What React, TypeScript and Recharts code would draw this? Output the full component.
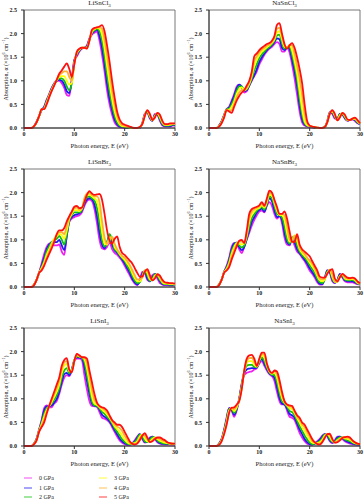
import React from "react";
import { LineChart, Line, XAxis, YAxis, ReferenceArea } from "recharts";

// photon energy grid (eV)
const energies = [
  0, 0.5, 1, 1.5, 2, 2.5, 3, 3.5, 4, 4.5,
  5, 5.5, 6, 6.5, 7, 7.5, 8, 8.5, 9, 9.5,
  10, 10.5, 11, 11.5, 12, 12.5, 13, 13.5, 14, 14.5,
  15, 15.5, 16, 16.5, 17, 17.5, 18, 18.5, 19, 19.5,
  20, 20.5, 21, 21.5, 22, 22.5, 23, 23.5, 24, 24.5,
  25, 25.5, 26, 26.5, 27, 27.5, 28, 28.5, 29, 29.5,
  30,
];

const pressures = ["0 GPa", "1 GPa", "2 GPa", "3 GPa", "4 GPa", "5 GPa"];
const colors = ["#f020f0", "#1c1cf0", "#10c010", "#ffff00", "#ffb030", "#ff1010"];

const xTicks = [0, 10, 20, 30];
const yTicks = [0, 0.5, 1, 1.5, 2, 2.5];

// LiSnCl3
const liSnCl3_0 = [
  0, 0, 0, 0, .04, .13, .25, .38, .45, .60,
  .72, .85, .95, 1.0, 1.0, .95, .85, .70, .68, 1.05,
  1.45, 1.52, 1.62, 1.68, 1.70, 1.75, 1.90, 1.98, 2.02, 2.04,
  1.85, 1.55, 1.20, .80, .50, .28, .12, .05, .02, .01,
  0, 0, 0, 0, 0, 0, 0, .10, .30, .32,
  .20, .15, .30, .28, .15, .05, .03, .03, .03, .05,
  .05,
];
const liSnCl3_1 = [
  0, 0, 0, 0, .04, .13, .25, .38, .44, .58,
  .70, .84, .94, 1.0, 1.02, 1.0, .92, .78, .74, 1.0,
  1.42, 1.55, 1.64, 1.69, 1.70, 1.73, 1.88, 2.0, 2.05, 2.08,
  1.95, 1.70, 1.35, .95, .62, .38, .18, .08, .03, .02,
  .01, 0, 0, 0, 0, 0, 0, .10, .29, .34,
  .22, .15, .28, .29, .18, .07, .04, .04, .04, .06,
  .06,
];
const liSnCl3_2 = [
  0, 0, 0, 0, .04, .12, .25, .39, .42, .56,
  .69, .82, .93, 1.0, 1.05, 1.05, 1.0, .88, .80, .95,
  1.40, 1.57, 1.65, 1.69, 1.70, 1.71, 1.87, 2.02, 2.07, 2.10,
  2.05, 1.85, 1.52, 1.12, .78, .48, .26, .12, .05, .03,
  .02, .01, 0, 0, 0, 0, .01, .09, .28, .35,
  .24, .16, .26, .30, .20, .09, .05, .05, .06, .07,
  .07,
];
const liSnCl3_3 = [
  0, 0, 0, 0, .04, .12, .25, .39, .41, .54,
  .68, .81, .92, 1.01, 1.08, 1.10, 1.10, 1.0, .92, .95,
  1.38, 1.59, 1.66, 1.70, 1.70, 1.70, 1.86, 2.04, 2.09, 2.12,
  2.10, 1.98, 1.70, 1.32, .95, .62, .36, .18, .08, .04,
  .03, .02, .01, 0, 0, 0, .01, .09, .27, .36,
  .26, .16, .25, .31, .23, .11, .06, .06, .07, .08,
  .08,
];
const liSnCl3_4 = [
  0, 0, 0, 0, .04, .12, .25, .40, .40, .52,
  .66, .80, .91, 1.02, 1.12, 1.16, 1.20, 1.20, 1.08, 1.0,
  1.36, 1.60, 1.67, 1.70, 1.70, 1.69, 1.85, 2.06, 2.10, 2.13,
  2.13, 2.10, 1.88, 1.55, 1.18, .80, .50, .26, .12, .06,
  .05, .03, .02, .01, 0, 0, .02, .08, .26, .37,
  .28, .17, .23, .32, .26, .13, .07, .07, .09, .09,
  .09,
];
const liSnCl3_5 = [
  0, 0, 0, 0, .04, .12, .25, .40, .40, .50,
  .65, .78, .90, 1.02, 1.15, 1.22, 1.30, 1.37, 1.25, 1.08,
  1.35, 1.62, 1.68, 1.70, 1.70, 1.68, 1.85, 2.08, 2.12, 2.13,
  2.15, 2.18, 2.05, 1.75, 1.40, 1.00, .65, .35, .18, .10,
  .07, .05, .03, .01, 0, 0, .02, .08, .25, .38,
  .30, .17, .22, .32, .28, .15, .08, .08, .10, .10,
  .10,
];

// NaSnCl3
const naSnCl3_0 = [
  0, 0, 0, 0, .05, .14, .28, .40, .45, .58,
  .72, .88, .92, .85, .75, .78, .90, 1.0, 1.1, 1.2,
  1.35, 1.45, 1.55, 1.62, 1.68, 1.72, 1.78, 1.82, 1.78, 1.62,
  1.62, 1.70, 1.60, 1.35, 1.05, .70, .35, .12, .05, .03,
  .02, .01, 0, 0, 0, 0, .02, .15, .33, .30,
  .20, .20, .30, .28, .20, .15, .17, .18, .15, .10,
  .08,
];
const naSnCl3_1 = [
  0, 0, 0, 0, .05, .14, .27, .40, .43, .55,
  .68, .84, .92, .88, .78, .80, .90, 1.02, 1.12, 1.25,
  1.40, 1.50, 1.58, 1.65, 1.70, 1.75, 1.82, 1.90, 1.88, 1.70,
  1.65, 1.72, 1.68, 1.45, 1.20, .88, .48, .18, .07, .04,
  .03, .02, .01, 0, 0, 0, .02, .14, .33, .32,
  .22, .19, .30, .29, .21, .16, .17, .19, .17, .11,
  .08,
];
const naSnCl3_2 = [
  0, 0, 0, 0, .04, .13, .26, .39, .41, .50,
  .62, .78, .88, .88, .80, .82, .92, 1.05, 1.22, 1.35,
  1.48, 1.56, 1.62, 1.68, 1.72, 1.77, 1.85, 1.96, 1.98, 1.80,
  1.68, 1.72, 1.72, 1.55, 1.32, 1.02, .62, .28, .10, .05,
  .04, .02, .01, 0, 0, 0, .02, .13, .32, .34,
  .24, .18, .29, .30, .23, .16, .17, .19, .18, .12,
  .09,
];
const naSnCl3_3 = [
  0, 0, 0, 0, .04, .12, .25, .39, .39, .45,
  .56, .72, .82, .86, .80, .84, .94, 1.10, 1.32, 1.45,
  1.55, 1.62, 1.66, 1.71, 1.75, 1.80, 1.88, 2.02, 2.05, 1.88,
  1.72, 1.72, 1.75, 1.65, 1.42, 1.15, .78, .40, .14, .06,
  .04, .03, .02, .01, 0, 0, .02, .13, .31, .35,
  .26, .17, .27, .31, .25, .17, .17, .20, .19, .14,
  .09,
];
const naSnCl3_4 = [
  0, 0, 0, 0, .03, .11, .24, .38, .37, .38,
  .50, .65, .75, .80, .80, .86, .97, 1.15, 1.42, 1.52,
  1.60, 1.66, 1.70, 1.74, 1.77, 1.82, 1.92, 2.10, 2.12, 1.95,
  1.75, 1.70, 1.76, 1.75, 1.58, 1.32, 1.05, .70, .30, .10,
  .05, .03, .02, .01, 0, 0, .02, .12, .30, .37,
  .28, .16, .24, .32, .27, .18, .17, .20, .21, .15,
  .10,
];
const naSnCl3_5 = [
  0, 0, 0, 0, .03, .10, .22, .38, .35, .32,
  .45, .58, .68, .75, .80, .90, 1.0, 1.2, 1.52, 1.58,
  1.65, 1.70, 1.74, 1.78, 1.80, 1.85, 1.95, 2.18, 2.22, 2.0,
  1.78, 1.68, 1.75, 1.80, 1.70, 1.50, 1.25, .95, .50, .15,
  .05, .03, .02, .01, 0, 0, .02, .12, .30, .38,
  .30, .16, .22, .32, .28, .18, .17, .20, .22, .17,
  .10,
];

// LiSnBr3
const liSnBr3_0 = [
  0, 0, 0, 0, .05, .15, .30, .50, .70, .85,
  .92, .92, .88, .88, .90, .75, .68, 1.10, 1.38, 1.45,
  1.48, 1.50, 1.52, 1.58, 1.72, 1.82, 1.85, 1.82, 1.65, 1.35,
  1.00, .82, .80, .85, .95, .80, .72, .68, .62, .55,
  .45, .35, .25, .15, .07, .04, .15, .32, .30, .15,
  .12, .25, .28, .18, .08, .05, .04, .04, .03, .03,
  .03,
];
const liSnBr3_1 = [
  0, 0, 0, 0, .05, .15, .30, .45, .62, .80,
  .90, .95, .95, .95, 1.0, .88, .78, 1.08, 1.40, 1.48,
  1.52, 1.54, 1.56, 1.62, 1.76, 1.85, 1.88, 1.86, 1.75, 1.50,
  1.15, .90, .82, .95, 1.10, .90, .78, .72, .66, .58,
  .50, .40, .30, .18, .10, .05, .12, .28, .33, .18,
  .12, .20, .28, .22, .12, .06, .05, .05, .04, .04,
  .04,
];
const liSnBr3_2 = [
  0, 0, 0, 0, .05, .15, .30, .42, .56, .75,
  .86, .95, 1.0, 1.02, 1.08, 1.0, .90, 1.12, 1.42, 1.52,
  1.58, 1.58, 1.58, 1.64, 1.80, 1.90, 1.92, 1.88, 1.83, 1.68,
  1.35, 1.0, .86, .92, 1.12, 1.0, .80, .75, .68, .61,
  .55, .45, .36, .24, .14, .08, .10, .24, .35, .24,
  .13, .17, .27, .24, .15, .08, .06, .06, .05, .05,
  .05,
];
const liSnBr3_3 = [
  0, 0, 0, 0, .05, .15, .30, .40, .52, .68,
  .80, .92, 1.02, 1.08, 1.12, 1.10, 1.02, 1.20, 1.45, 1.55,
  1.63, 1.63, 1.61, 1.66, 1.85, 1.94, 1.96, 1.92, 1.88, 1.82,
  1.58, 1.18, .92, .90, 1.05, 1.05, .85, .78, .70, .63,
  .58, .50, .42, .30, .19, .12, .12, .20, .35, .30,
  .16, .15, .24, .26, .18, .10, .07, .07, .06, .06,
  .05,
];
const liSnBr3_4 = [
  0, 0, 0, 0, .04, .15, .30, .38, .48, .62,
  .75, .88, 1.0, 1.10, 1.16, 1.16, 1.12, 1.30, 1.48, 1.58,
  1.67, 1.68, 1.64, 1.67, 1.88, 1.98, 2.0, 1.95, 1.92, 1.92,
  1.80, 1.40, 1.05, .92, .98, 1.06, .92, .80, .72, .66,
  .62, .55, .47, .36, .25, .16, .16, .20, .33, .35,
  .20, .14, .21, .27, .21, .12, .09, .08, .07, .07,
  .06,
];
const liSnBr3_5 = [
  0, 0, 0, 0, .04, .15, .30, .35, .45, .58,
  .70, .82, .95, 1.12, 1.20, 1.20, 1.25, 1.39, 1.50, 1.60,
  1.70, 1.72, 1.67, 1.68, 1.80, 1.95, 2.03, 1.98, 1.95, 1.96,
  1.97, 1.85, 1.55, 1.20, .98, .92, 1.02, 1.07, .85, .72,
  .68, .62, .56, .50, .40, .30, .22, .22, .33, .38,
  .25, .14, .18, .27, .24, .15, .10, .09, .08, .08,
  .07,
];

// NaSnBr3
const naSnBr3_0 = [
  0, 0, 0, 0, .05, .15, .32, .45, .62, .85,
  .93, .92, .80, .72, .85, 1.0, 1.15, 1.30, 1.42, 1.52,
  1.60, 1.62, 1.58, 1.72, 1.80, 1.72, 1.55, 1.45, 1.50, 1.35,
  1.05, .90, .88, 1.0, .88, .75, .70, .62, .55, .45,
  .35, .28, .20, .10, .05, .05, .20, .35, .30, .12,
  .08, .15, .28, .20, .12, .10, .10, .10, .08, .06,
  .05,
];
const naSnBr3_1 = [
  0, 0, 0, 0, .05, .15, .32, .42, .58, .80,
  .92, .94, .85, .78, .85, 1.02, 1.20, 1.38, 1.48, 1.58,
  1.63, 1.66, 1.60, 1.75, 1.88, 1.82, 1.62, 1.48, 1.50, 1.42,
  1.15, .95, .90, 1.05, .95, .80, .72, .65, .58, .50,
  .40, .32, .24, .14, .07, .06, .18, .35, .32, .15,
  .09, .14, .27, .22, .14, .12, .12, .12, .10, .07,
  .06,
];
const naSnBr3_2 = [
  0, 0, 0, 0, .05, .15, .31, .40, .54, .75,
  .88, .94, .88, .84, .88, 1.05, 1.28, 1.46, 1.54, 1.62,
  1.66, 1.70, 1.64, 1.77, 1.92, 1.88, 1.72, 1.55, 1.52, 1.48,
  1.28, 1.02, .92, 1.05, 1.05, .88, .75, .68, .62, .55,
  .46, .38, .30, .18, .10, .08, .16, .33, .35, .18,
  .10, .13, .25, .24, .16, .14, .14, .15, .12, .08,
  .06,
];
const naSnBr3_3 = [
  0, 0, 0, 0, .05, .15, .31, .38, .50, .70,
  .84, .93, .92, .90, .92, 1.10, 1.38, 1.54, 1.60, 1.65,
  1.68, 1.73, 1.68, 1.80, 1.96, 1.94, 1.78, 1.62, 1.53, 1.52,
  1.42, 1.15, .96, .98, 1.10, .98, .80, .72, .66, .60,
  .52, .44, .36, .24, .14, .12, .16, .30, .36, .22,
  .11, .12, .23, .26, .18, .16, .16, .17, .15, .09,
  .07,
];
const naSnBr3_4 = [
  0, 0, 0, 0, .04, .15, .30, .36, .46, .64,
  .78, .90, .96, .96, .93, 1.12, 1.46, 1.60, 1.65, 1.68,
  1.71, 1.76, 1.71, 1.84, 2.0, 1.98, 1.82, 1.66, 1.55, 1.55,
  1.52, 1.30, 1.02, .96, 1.08, 1.05, .85, .76, .70, .62,
  .56, .50, .40, .28, .18, .16, .18, .28, .37, .28,
  .12, .11, .22, .27, .20, .18, .18, .19, .17, .10,
  .08,
];
const naSnBr3_5 = [
  0, 0, 0, 0, .04, .15, .30, .35, .42, .58,
  .72, .86, .98, 1.0, .93, 1.2, 1.55, 1.65, 1.68, 1.70,
  1.73, 1.80, 1.72, 1.88, 2.04, 2.0, 1.85, 1.70, 1.55, 1.55,
  1.60, 1.45, 1.18, .96, .95, 1.12, .90, .80, .75, .70,
  .65, .55, .45, .35, .22, .20, .20, .28, .35, .38,
  .18, .12, .20, .28, .24, .20, .19, .20, .18, .12,
  .08,
];

// LiSnI3
const liSnI3_0 = [
  0, 0, 0, 0, .05, .15, .35, .55, .80, .86,
  .82, .82, .90, .95, 1.10, 1.30, 1.45, 1.50, 1.48, 1.60,
  1.80, 1.85, 1.85, 1.82, 1.50, 1.20, .95, .85, .84, .83,
  .72, .60, .58, .55, .50, .40, .30, .20, .12, .07,
  .04, .02, .02, .06, .12, .20, .25, .15, .07, .10,
  .18, .20, .15, .08, .05, .04, .03, .03, .03, .03,
  .03,
];
const liSnI3_1 = [
  0, 0, 0, 0, .05, .15, .34, .52, .75, .84,
  .84, .86, .92, 1.0, 1.15, 1.36, 1.52, 1.55, 1.50, 1.62,
  1.82, 1.88, 1.87, 1.86, 1.68, 1.38, 1.10, .90, .85, .84,
  .78, .66, .62, .58, .52, .44, .34, .25, .16, .10,
  .06, .03, .03, .05, .10, .18, .25, .18, .08, .09,
  .16, .20, .17, .10, .06, .05, .04, .04, .04, .04,
  .04,
];
const liSnI3_2 = [
  0, 0, 0, 0, .05, .14, .33, .49, .68, .80,
  .84, .90, .98, 1.08, 1.22, 1.45, 1.60, 1.65, 1.54, 1.62,
  1.82, 1.90, 1.89, 1.87, 1.78, 1.50, 1.22, .95, .86, .85,
  .80, .72, .68, .62, .56, .48, .38, .30, .22, .14,
  .09, .05, .04, .05, .08, .15, .24, .21, .10, .08,
  .13, .19, .18, .12, .08, .06, .05, .05, .04, .04,
  .04,
];
const liSnI3_3 = [
  0, 0, 0, 0, .05, .13, .32, .46, .62, .76,
  .84, .93, 1.04, 1.15, 1.30, 1.55, 1.70, 1.74, 1.58, 1.60,
  1.81, 1.92, 1.90, 1.88, 1.84, 1.65, 1.35, 1.05, .90, .87,
  .82, .77, .73, .67, .60, .51, .42, .36, .30, .22,
  .14, .08, .05, .05, .06, .10, .20, .24, .16, .10,
  .10, .15, .18, .15, .11, .09, .07, .06, .05, .05,
  .05,
];
const liSnI3_4 = [
  0, 0, 0, 0, .04, .12, .31, .43, .56, .72,
  .85, .97, 1.10, 1.22, 1.38, 1.62, 1.77, 1.80, 1.60, 1.58,
  1.80, 1.94, 1.91, 1.88, 1.87, 1.76, 1.48, 1.20, .98, .90,
  .84, .80, .77, .71, .63, .53, .46, .41, .38, .32,
  .22, .14, .07, .05, .04, .07, .16, .23, .22, .14,
  .08, .12, .17, .17, .15, .12, .10, .07, .05, .05,
  .05,
];
const liSnI3_5 = [
  0, 0, 0, 0, .04, .12, .30, .40, .50, .68,
  .85, 1.0, 1.15, 1.30, 1.45, 1.70, 1.82, 1.86, 1.62, 1.56,
  1.80, 1.95, 1.92, 1.88, 1.88, 1.85, 1.60, 1.35, 1.10, .92,
  .85, .82, .80, .75, .65, .55, .50, .45, .45, .40,
  .30, .20, .10, .05, .03, .05, .12, .22, .27, .18,
  .08, .10, .15, .18, .18, .15, .12, .08, .06, .05,
  .05,
];

// NaSnI3
const naSnI3_0 = [
  0, 0, 0, 0, .05, .15, .35, .60, .80, .75,
  .62, .75, 1.0, 1.30, 1.50, 1.55, 1.57, 1.58, 1.62, 1.65,
  1.75, 1.80, 1.70, 1.60, 1.52, 1.48, 1.38, 1.15, .95, .88,
  .88, .75, .62, .60, .55, .42, .28, .18, .10, .05,
  .03, .03, .06, .10, .15, .22, .25, .20, .10, .06,
  .12, .20, .20, .15, .10, .07, .05, .04, .03, .03,
  .03,
];
const naSnI3_1 = [
  0, 0, 0, 0, .05, .14, .33, .57, .80, .77,
  .66, .78, 1.0, 1.32, 1.55, 1.62, 1.64, 1.65, 1.65, 1.66,
  1.78, 1.84, 1.74, 1.63, 1.54, 1.50, 1.45, 1.25, 1.02, .90,
  .88, .80, .68, .65, .60, .48, .35, .25, .15, .08,
  .04, .03, .05, .08, .13, .20, .25, .22, .12, .07,
  .10, .18, .20, .17, .12, .09, .07, .05, .04, .03,
  .03,
];
const naSnI3_2 = [
  0, 0, 0, 0, .04, .13, .31, .54, .78, .79,
  .70, .80, .98, 1.28, 1.58, 1.70, 1.72, 1.72, 1.68, 1.67,
  1.80, 1.88, 1.80, 1.66, 1.56, 1.51, 1.50, 1.35, 1.12, .95,
  .90, .84, .74, .72, .65, .54, .42, .32, .22, .14,
  .07, .04, .05, .07, .10, .17, .24, .24, .15, .09,
  .09, .15, .18, .18, .14, .12, .10, .07, .05, .04,
  .03,
];
const naSnI3_3 = [
  0, 0, 0, 0, .03, .12, .29, .51, .75, .80,
  .74, .82, .97, 1.25, 1.58, 1.76, 1.80, 1.80, 1.72, 1.68,
  1.82, 1.92, 1.87, 1.70, 1.58, 1.53, 1.55, 1.45, 1.22, 1.02,
  .92, .86, .80, .78, .70, .59, .50, .40, .32, .22,
  .13, .07, .06, .06, .08, .13, .22, .25, .19, .11,
  .08, .12, .16, .18, .16, .15, .13, .09, .06, .05,
  .04,
];
const naSnI3_4 = [
  0, 0, 0, 0, .03, .11, .27, .48, .72, .81,
  .78, .85, .96, 1.22, 1.59, 1.81, 1.86, 1.87, 1.78, 1.69,
  1.84, 1.95, 1.93, 1.73, 1.59, 1.54, 1.58, 1.52, 1.32, 1.08,
  .94, .87, .84, .82, .73, .62, .56, .46, .40, .30,
  .20, .11, .07, .05, .05, .10, .19, .25, .23, .13,
  .07, .10, .14, .18, .18, .18, .16, .11, .07, .05,
  .04,
];
const naSnI3_5 = [
  0, 0, 0, 0, .02, .10, .25, .45, .70, .81,
  .82, .88, .95, 1.20, 1.60, 1.85, 1.92, 1.93, 1.85, 1.70,
  1.85, 1.98, 1.98, 1.75, 1.60, 1.55, 1.60, 1.58, 1.40, 1.15,
  .95, .88, .86, .85, .75, .65, .60, .50, .45, .35,
  .25, .15, .08, .04, .03, .08, .17, .25, .26, .15,
  .07, .08, .12, .17, .19, .20, .18, .12, .08, .05,
  .04,
];

const FONT = "'Liberation Serif', 'DejaVu Serif', serif";

// plot area geometry
const PLOT_W = 151;
const PLOT_H = 118;
const Y_AXIS_W = 24;
const colLeft = [24, 209];
const rowTop = [10, 169, 328];

const panels = [
  { name: "LiSnCl", col: 0, row: 0, series: [liSnCl3_0, liSnCl3_1, liSnCl3_2, liSnCl3_3, liSnCl3_4, liSnCl3_5] },
  { name: "NaSnCl", col: 1, row: 0, series: [naSnCl3_0, naSnCl3_1, naSnCl3_2, naSnCl3_3, naSnCl3_4, naSnCl3_5] },
  { name: "LiSnBr", col: 0, row: 1, series: [liSnBr3_0, liSnBr3_1, liSnBr3_2, liSnBr3_3, liSnBr3_4, liSnBr3_5] },
  { name: "NaSnBr", col: 1, row: 1, series: [naSnBr3_0, naSnBr3_1, naSnBr3_2, naSnBr3_3, naSnBr3_4, naSnBr3_5] },
  { name: "LiSnI", col: 0, row: 2, series: [liSnI3_0, liSnI3_1, liSnI3_2, liSnI3_3, liSnI3_4, liSnI3_5] },
  { name: "NaSnI", col: 1, row: 2, series: [naSnI3_0, naSnI3_1, naSnI3_2, naSnI3_3, naSnI3_4, naSnI3_5] },
];

const tickStyle = { fontSize: 6, fill: "#222", fontFamily: FONT, fontWeight: 700 };

function Panel({ p }: { p: (typeof panels)[number] }) {
  const left = colLeft[p.col];
  const top = rowTop[p.row];
  const rows = energies.map((e, i) => {
    const r: Record<string, number> = { e };
    p.series.forEach((s, k) => {
      r["s" + k] = s[i];
    });
    return r;
  });
  return (
    <>
      <div
        style={{
          position: "absolute",
          left: left,
          top: top - 11,
          width: PLOT_W,
          textAlign: "center",
          fontSize: 7,
          lineHeight: "8px",
          fontFamily: FONT,
          color: "#222",
        }}
      >
        {p.name}
        <sub style={{ fontSize: 5 }}>3</sub>
      </div>
      <div
        style={{
          position: "absolute",
          left: left - 19,
          top: top + PLOT_H / 2,
          transform: "translate(-50%, -50%) rotate(-90deg)",
          whiteSpace: "nowrap",
          fontSize: 6,
          lineHeight: "7px",
          fontFamily: FONT,
          color: "#222",
        }}
      >
        Absorption, α (×10<sup style={{ fontSize: 4 }}>6</sup> cm<sup style={{ fontSize: 4 }}>−1</sup>)
      </div>
      <div
        style={{
          position: "absolute",
          left: left,
          top: top + PLOT_H + 14,
          width: PLOT_W,
          textAlign: "center",
          fontSize: 6.5,
          lineHeight: "8px",
          fontFamily: FONT,
          color: "#222",
        }}
      >
        Photon energy, E (eV)
      </div>
      <div style={{ position: "absolute", left: left - Y_AXIS_W, top: top - 10 }}>
        <LineChart
          width={Y_AXIS_W + PLOT_W + 4}
          height={10 + PLOT_H + 28}
          data={rows}
          margin={{ top: 10, right: 4, bottom: 0, left: 0 }}
        >
          <XAxis
            dataKey="e"
            type="number"
            domain={[0, 30]}
            ticks={xTicks}
            height={28}
            tick={tickStyle}
            tickSize={3}
            tickMargin={1}
            stroke="#333"
            interval={0}
          />
          <YAxis
            type="number"
            domain={[0, 2.5]}
            ticks={yTicks}
            width={Y_AXIS_W}
            tick={tickStyle}
            tickSize={3}
            tickMargin={4}
            stroke="#333"
            interval={0}
            tickFormatter={(v: number) => v.toFixed(1)}
          />
          <ReferenceArea x1={0} x2={30} y1={0} y2={2.5} stroke="#555" strokeWidth={0.8} fill="none" />
          {p.series.map((_, k) => (
            <Line
              key={k}
              dataKey={"s" + k}
              type="monotone"
              stroke={colors[k]}
              strokeWidth={1.8}
              dot={false}
              isAnimationActive={false}
            />
          ))}
        </LineChart>
      </div>
    </>
  );
}

function Legend() {
  const rowsY = [478, 488, 497];
  return (
    <>
      {pressures.map((label, k) => {
        const col = k < 3 ? 0 : 1;
        const y = rowsY[k % 3];
        const lx = col === 0 ? 24 : 99;
        return (
          <React.Fragment key={label}>
            <div
              style={{
                position: "absolute",
                left: lx,
                top: y - 1,
                width: 8,
                height: 1.5,
                background: colors[k],
                opacity: 0.4,
              }}
            />
            <div
              style={{
                position: "absolute",
                left: lx + 15,
                top: y - 4,
                fontSize: 6,
                lineHeight: "8px",
                fontFamily: FONT,
                color: "#222",
                whiteSpace: "nowrap",
              }}
            >
              {label}
            </div>
          </React.Fragment>
        );
      })}
    </>
  );
}

export default function App() {
  return (
    <div style={{ position: "absolute", left: 0, top: 0, width: 364, height: 500, background: "#fff" }}>
      {panels.map((p) => (
        <Panel key={p.name} p={p} />
      ))}
      <Legend />
    </div>
  );
}
